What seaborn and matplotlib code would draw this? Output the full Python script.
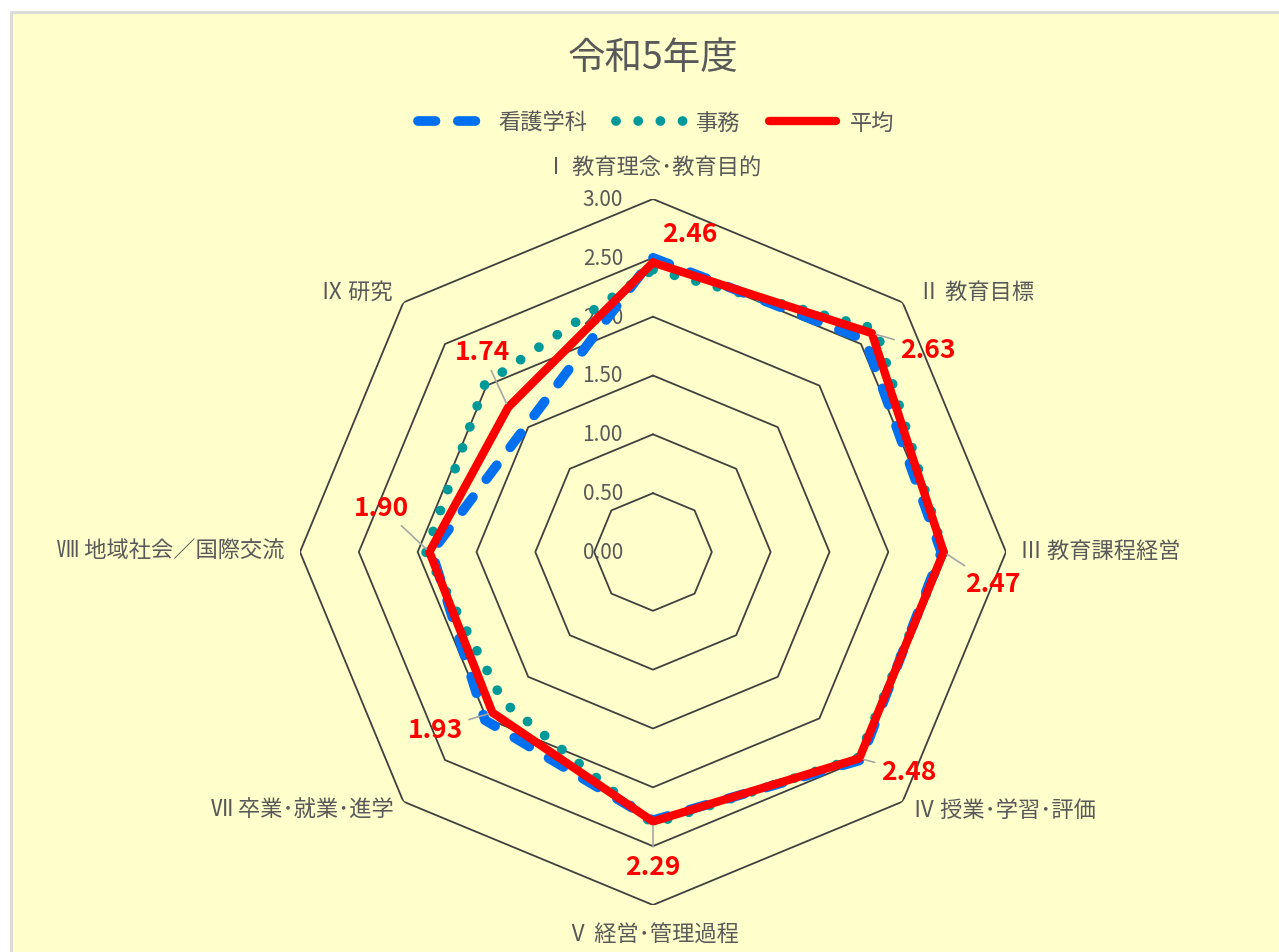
import numpy as np
import pandas as pd
import seaborn as sns
import matplotlib.pyplot as plt
from matplotlib.patches import Rectangle
from matplotlib.lines import Line2D

# Data
categories = ["Ⅰ 教育理念･教育目的", "Ⅱ 教育目標", "Ⅲ 教育課程経営", "Ⅳ 授業･学習･評価",
              "Ⅴ 経営･管理過程", "Ⅶ 卒業･就業･進学", "Ⅷ 地域社会／国際交流", "Ⅸ 研究"]
kango = [2.50, 2.55, 2.45, 2.50, 2.28, 2.02, 1.88, 1.52]
jimu = [2.40, 2.68, 2.47, 2.47, 2.31, 1.80, 1.93, 2.02]
heikin = [2.46, 2.63, 2.47, 2.48, 2.29, 1.93, 1.90, 1.74]
r_ticks = [0.0, 0.5, 1.0, 1.5, 2.0, 2.5, 3.0]
series_names = ["看護学科", "事務", "平均"]

# label offsets (pixels) for the average values
label_offsets = [(37, 29), (56, -16), (49, -32), (49, -13), (0, -45), (-57, -17), (-48, 45), (-26, 56)]
cat_offsets = [(0, 32, "center"), (15, 11, "left"), (14, 2, "left"), (10, -8, "left"),
               (0, -29, "center"), (-10, -8, "right"), (-15, 2, "right"), (-11, 11, "right")]

sns.set_theme(style="white")
plt.rcParams["font.family"] = ["Noto Sans CJK JP", "DejaVu Sans"]

n = len(categories)
theta = np.linspace(0, 2 * np.pi, n, endpoint=False)
theta_c = np.append(theta, 2 * np.pi)

blue_style = dict(color="#0070F0", lw=7, linestyle=(0, (1.8, 2.3)), dash_capstyle="round")
teal_style = dict(color="#009999", lw=7, linestyle=(0, (0.01, 2.27)), dash_capstyle="round")
red_style = dict(color="#FF0000", lw=6)

fig = plt.figure(figsize=(12.79, 9.53), dpi=100)
fig.patch.set_facecolor("white")
fig.patches.append(Rectangle((11 / 1279, -0.01), 1.0, (953 - 13) / 953 + 0.01, transform=fig.transFigure,
                             facecolor="#FFFFCC", edgecolor="#D9D9D9", lw=2, zorder=-10))

ax = fig.add_axes([300 / 1279, 47 / 953, 706 / 1279, 706 / 953], projection="polar")
ax.set_theta_offset(np.pi / 2)
ax.set_theta_direction(-1)
ax.patch.set_alpha(0)
ax.spines["polar"].set_visible(False)
ax.grid(False)

# octagon grid
for lv in r_ticks[1:]:
    ax.plot(theta_c, [lv] * (n + 1), color="#404040", lw=1.3, zorder=1)

def closed(vals):
    return pd.DataFrame({"theta": theta_c, "value": list(vals) + [vals[0]]})

sns.lineplot(data=closed(jimu), x="theta", y="value", ax=ax, zorder=3, **teal_style)
sns.lineplot(data=closed(kango), x="theta", y="value", ax=ax, zorder=4, **blue_style)
sns.lineplot(data=closed(heikin), x="theta", y="value", ax=ax, zorder=5, **red_style)

ax.set_ylim(0, 3)
ax.set_xticks([])
ax.set_yticks([])
ax.set_xlabel("")
ax.set_ylabel("")

# radial labels
for lv in r_ticks:
    ax.annotate(f"{lv:.2f}", xy=(0, lv), xytext=(-30, 0), textcoords="offset pixels",
                ha="right", va="center", fontsize=15, color="#595959", zorder=2)

# category labels
for t, lab, (dx, dy, ha) in zip(theta, categories, cat_offsets):
    ax.annotate(lab, xy=(t, 3.0), xytext=(dx, dy), textcoords="offset pixels",
                ha=ha, va="center", fontsize=16, color="#595959", annotation_clip=False)

# average data labels
for i, (t, v, (dx, dy)) in enumerate(zip(theta, heikin, label_offsets)):
    arrow = None if i == 0 else dict(arrowstyle="-", color="#A6A6A6", lw=1.2, shrinkA=2, shrinkB=3)
    ax.annotate(f"{v:.2f}", xy=(t, v), xytext=(dx, dy), textcoords="offset pixels",
                ha="center", va="center", fontsize=19, fontweight="bold", color="#FF0000",
                arrowprops=arrow, zorder=6, annotation_clip=False)

fig.text(653 / 1279, 1 - 58 / 953, "令和5年度", ha="center", va="center", fontsize=27, color="#595959")

handles = [Line2D([], [], **blue_style), Line2D([], [], **teal_style), Line2D([], [], **red_style)]
fig.legend(handles, series_names, loc="center", bbox_to_anchor=(656 / 1279, 1 - 123 / 953), ncol=3,
           frameon=False, fontsize=16, handlelength=3.0, columnspacing=1.3, handletextpad=0.6,
           labelcolor="#595959")

plt.savefig("out.png", dpi=100, facecolor=fig.get_facecolor())
